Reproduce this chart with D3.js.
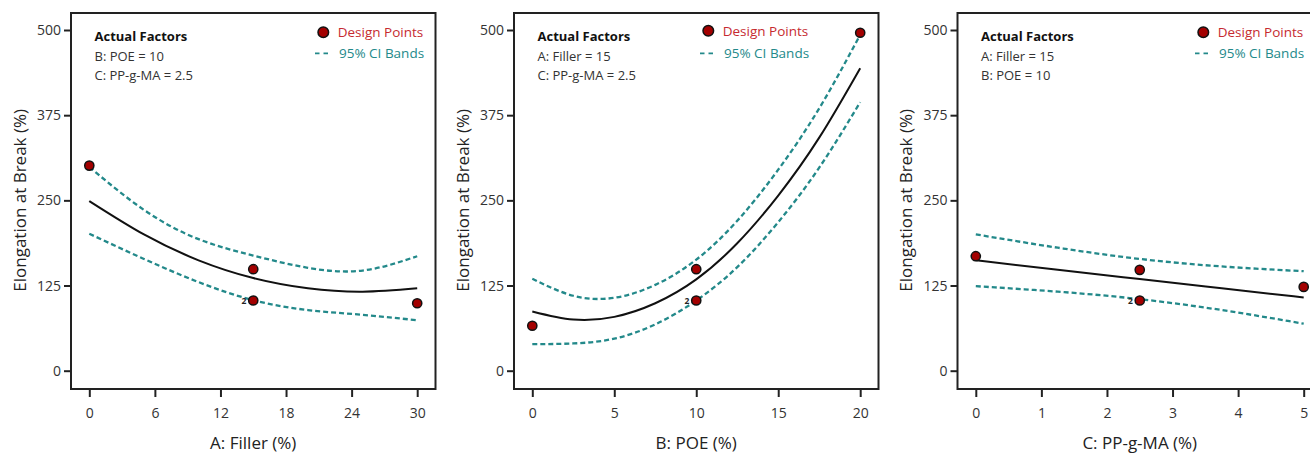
<!DOCTYPE html>
<html>
<head>
<meta charset="utf-8">
<script src="https://cdn.jsdelivr.net/npm/d3@7"></script>
<style>
  html, body { margin: 0; padding: 0; background: #fff; }
  svg { display: block; font-family: "Open Sans", "Noto Sans", sans-serif; }
</style>
</head>
<body>
<svg id="chart" width="1310" height="453"></svg>
<script>
// Shared y axis
const yTicks = [0, 125, 250, 375, 500];

// Panel A: Filler
const fillerTicks = [0, 6, 12, 18, 24, 30];
const fillerX     = [0, 5, 10, 15, 20, 25, 30];
const fillerFit   = [249, 200, 162, 136, 121, 116, 121];
const fillerUpper = [299, 236, 193, 169, 151, 147, 168];
const fillerLower = [201, 164, 130, 103.5, 89, 82, 74];
const fillerPtX   = [0, 15, 15, 30];
const fillerPtY   = [301, 149, 103, 99];
const fillerPtN   = [1, 1, 2, 1];
const fillerFactors = ["B: POE = 10", "C: PP-g-MA = 2.5"];

// Panel B: POE
const poeTicks = [0, 5, 10, 15, 20];
const poeX     = [0, 2.5, 5, 7.5, 10, 12.5, 15, 17.5, 20];
const poeFit   = [87, 75, 79, 99, 134, 187, 257, 342, 444];
const poeUpper = [135, 110, 107, 126, 163, 220, 295, 385, 493];
const poeLower = [39, 40, 47, 68, 103, 152, 218, 298, 394];
const poePtX   = [0, 10, 10, 20];
const poePtY   = [66, 149, 103, 496];
const poePtN   = [1, 1, 2, 1];
const poeFactors = ["A: Filler = 15", "C: PP-g-MA = 2.5"];

// Panel C: PP-g-MA
const mahTicks = [0, 1, 2, 3, 4, 5];
const mahX     = [0, 1.25, 2.5, 3.75, 5];
const mahFit   = [162, 148, 134.5, 121, 107.5];
const mahUpper = [200, 180.5, 164, 153, 146];
const mahLower = [124, 116, 105, 89, 69];
const mahPtX   = [0, 2.5, 2.5, 5];
const mahPtY   = [168, 148, 103, 123];
const mahPtN   = [1, 1, 2, 1];
const mahFactors = ["A: Filler = 15", "B: POE = 10"];

const panels = [
  { title: "A: Filler (%)", domain: [0, 30], ticks: fillerTicks, xs: fillerX, fit: fillerFit, upper: fillerUpper, lower: fillerLower,
    px: fillerPtX, py: fillerPtY, pn: fillerPtN, factors: fillerFactors, left: 71, legendX: 252.3, legendY: 32.3 },
  { title: "B: POE (%)", domain: [0, 20], ticks: poeTicks, xs: poeX, fit: poeFit, upper: poeUpper, lower: poeLower,
    px: poePtX, py: poePtY, pn: poePtN, factors: poeFactors, left: 514, legendX: 194.3, legendY: 30.7 },
  { title: "C: PP-g-MA (%)", domain: [0, 5], ticks: mahTicks, xs: mahX, fit: mahFit, upper: mahUpper, lower: mahLower,
    px: mahPtX, py: mahPtY, pn: mahPtN, factors: mahFactors, left: 957.5, legendX: 245.8, legendY: 32.3 }
];

const boxW = 364.5, inset = 18.3;
const boxTop = 13, boxBottom = 389;
const teal = "#23898a", ptFill = "#a30000", legendRed = "#c62a30", ink = "#222";

const svg = d3.select("#chart");
const y = d3.scaleLinear().domain([0, 500]).range([370.7, 30]);

panels.forEach(p => {
  const g = svg.append("g");
  const x = d3.scaleLinear().domain(p.domain).range([p.left + inset, p.left + boxW - inset]);

  // frame
  g.append("rect")
    .attr("x", p.left).attr("y", boxTop)
    .attr("width", boxW).attr("height", boxBottom - boxTop)
    .attr("fill", "none").attr("stroke", ink).attr("stroke-width", 2);

  // y axis
  const ya = g.append("g").attr("transform", `translate(${p.left},0)`)
    .call(d3.axisLeft(y).tickValues(yTicks).tickSize(7).tickPadding(3));
  ya.select(".domain").remove();
  ya.selectAll(".tick line").attr("stroke", ink).attr("stroke-width", 2);
  ya.selectAll(".tick text").attr("font-size", 14).attr("fill", "#333")
    .attr("font-family", "\"Open Sans\", sans-serif");

  // x axis
  const xa = g.append("g").attr("transform", `translate(0,${boxBottom})`)
    .call(d3.axisBottom(x).tickValues(p.ticks).tickSize(8).tickPadding(11).tickFormat(d3.format("d")));
  xa.select(".domain").remove();
  xa.selectAll(".tick line").attr("stroke", ink).attr("stroke-width", 2);
  xa.selectAll(".tick text").attr("font-size", 14).attr("fill", "#333")
    .attr("font-family", "\"Open Sans\", sans-serif");

  // axis titles
  g.append("text")
    .attr("x", (x.range()[0] + x.range()[1]) / 2).attr("y", 442)
    .attr("text-anchor", "middle").attr("dominant-baseline", "central")
    .attr("font-size", 17).attr("fill", ink).text(p.title);
  g.append("text")
    .attr("transform", `translate(${p.left - 52},${(y(0) + y(500)) / 2}) rotate(-90)`)
    .attr("text-anchor", "middle").attr("dominant-baseline", "central")
    .attr("font-size", 17).attr("fill", ink).text("Elongation at Break (%)");

  // curves
  const line = vals => d3.line()
    .x((d, i) => x(p.xs[i])).y(d => y(d))
    .curve(d3.curveNatural)(vals);

  g.append("path").attr("d", line(p.upper)).attr("fill", "none")
    .attr("stroke", teal).attr("stroke-width", 2.3).attr("stroke-dasharray", "5,3");
  g.append("path").attr("d", line(p.lower)).attr("fill", "none")
    .attr("stroke", teal).attr("stroke-width", 2.3).attr("stroke-dasharray", "5,3");
  g.append("path").attr("d", line(p.fit)).attr("fill", "none")
    .attr("stroke", "#111").attr("stroke-width", 2);

  // design points
  const pts = p.px.map((v, i) => ({ x: v, y: p.py[i], n: p.pn[i] }));
  g.selectAll("circle.pt").data(pts).join("circle")
    .attr("class", "pt")
    .attr("cx", d => x(d.x)).attr("cy", d => y(d.y)).attr("r", 4.6)
    .attr("fill", ptFill).attr("stroke", "#111").attr("stroke-width", 1.5);
  g.selectAll("text.rep").data(pts.filter(d => d.n > 1)).join("text")
    .attr("class", "rep")
    .attr("x", d => x(d.x) - 7).attr("y", d => y(d.y))
    .attr("text-anchor", "end").attr("dominant-baseline", "central")
    .attr("font-size", 8.5).attr("font-weight", "bold").attr("fill", ink)
    .text(d => d.n);

  // factor block
  const fx = p.left + 23.5;
  g.append("text").attr("x", fx).attr("y", 35.5).attr("dominant-baseline", "central")
    .attr("font-size", 13).attr("font-weight", "bold").attr("fill", "#111").text("Actual Factors");
  p.factors.forEach((t, i) => {
    g.append("text").attr("x", fx).attr("y", 55.5 + i * 19.5).attr("dominant-baseline", "central")
      .attr("font-size", 13).attr("fill", "#333").text(t);
  });

  // legend
  const lx = p.left + p.legendX;
  g.append("circle").attr("cx", lx).attr("cy", p.legendY).attr("r", 5.3)
    .attr("fill", ptFill).attr("stroke", "#111").attr("stroke-width", 1.5);
  g.append("text").attr("x", lx + 14.4).attr("y", p.legendY).attr("dominant-baseline", "central")
    .attr("font-size", 13.5).attr("fill", legendRed).text("Design Points");
  g.append("line").attr("x1", lx - 8.3).attr("x2", lx + 5).attr("y1", 53.3).attr("y2", 53.3)
    .attr("stroke", teal).attr("stroke-width", 1.8).attr("stroke-dasharray", "4.5,4");
  g.append("text").attr("x", lx + 15.7).attr("y", 53.3).attr("dominant-baseline", "central")
    .attr("font-size", 13.5).attr("fill", teal).text("95% CI Bands");
});
</script>
</body>
</html>
